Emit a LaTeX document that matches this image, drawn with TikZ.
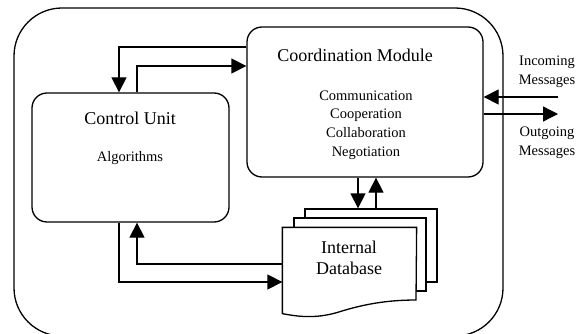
\documentclass[tikz,border=0pt]{standalone}
\usepackage{fontspec}
\setmainfont{Liberation Serif}
\usetikzlibrary{arrows.meta}
\begin{document}
\begin{tikzpicture}[x=1pt,y=-1pt,line width=1.3pt,
  box/.style={draw,rounded corners=15pt,inner sep=0pt},
  page/.style={draw,fill=white,inner sep=0pt},
  big/.style={font=\fontsize{18}{21}\selectfont,inner sep=0pt,align=center},
  small/.style={font=\fontsize{14.5}{18.7}\selectfont,inner sep=0pt,align=center},
  arr/.style={-{Triangle[length=15pt,width=15pt]}}]
\useasboundingbox (0,0) rectangle (583,334);
\clip (0,0) rectangle (583,334);
% outer agent boundary
\node[box,rounded corners=48pt,minimum width=489pt,minimum height=328pt] (agent) at (258.5,172) {};
% control unit
\node[box,minimum width=197pt,minimum height=129pt] (cu) at (130.5,157.5) {};
\node[big] (cut) at (130,118) {Control Unit};
\node[small] (alg) at (130,158) {Algorithms};
% coordination module
\node[box,minimum width=236pt,minimum height=150pt] (cm) at (365,102) {};
\node[big] (cmt) at (355,55) {Coordination Module};
\node[small] (cml) at (366,125) {Communication\\Cooperation\\Collaboration\\Negotiation};
% internal database pages
\node[page,minimum width=132pt,minimum height=73pt] (db3) at (371,245.5) {};
\node[page,minimum width=132pt,minimum height=73pt] (db2) at (360,254.5) {};
\node[inner sep=0pt,minimum width=133pt,minimum height=85pt] (db) at (349.5,270.5) {};
\draw[fill=white] (db.north west) -- (db.north east) -- (416,300)
  .. controls (385,300) and (362,305) .. (342,311)
  .. controls (318,319) and (300,317) .. (db.south west) -- cycle;
\node[big] (dbt) at (349,258) {Internal\\Database};
% messages
\coordinate (inc) at (558,97);
\coordinate (outg) at (558,114);
\node[small] (incl) at (547,72) {Incoming\\Messages};
\node[small] (outl) at (547,143) {Outgoing\\Messages};
\draw[arr] (inc) -- (cm.east |- inc);
\draw[arr] (cm.east |- outg) -- (outg);
% control <-> coordination
\draw[arr] (cm.west |- 0,47) -| (cu.north -| 119,0);
\draw[arr] (cu.north -| 137,0) |- (cm.west |- 0,66);
% coordination <-> database
\draw[arr] (cm.south -| 358,0) -- (db3.north -| 358,0);
\draw[arr] (db3.north -| 376,0) -- (cm.south -| 376,0);
% database <-> control
\draw[arr] (db.west |- 0,264) -| (cu.south -| 137,0);
\draw[arr] (cu.south -| 119,0) |- (db.west |- 0,282);
\end{tikzpicture}
\end{document}
